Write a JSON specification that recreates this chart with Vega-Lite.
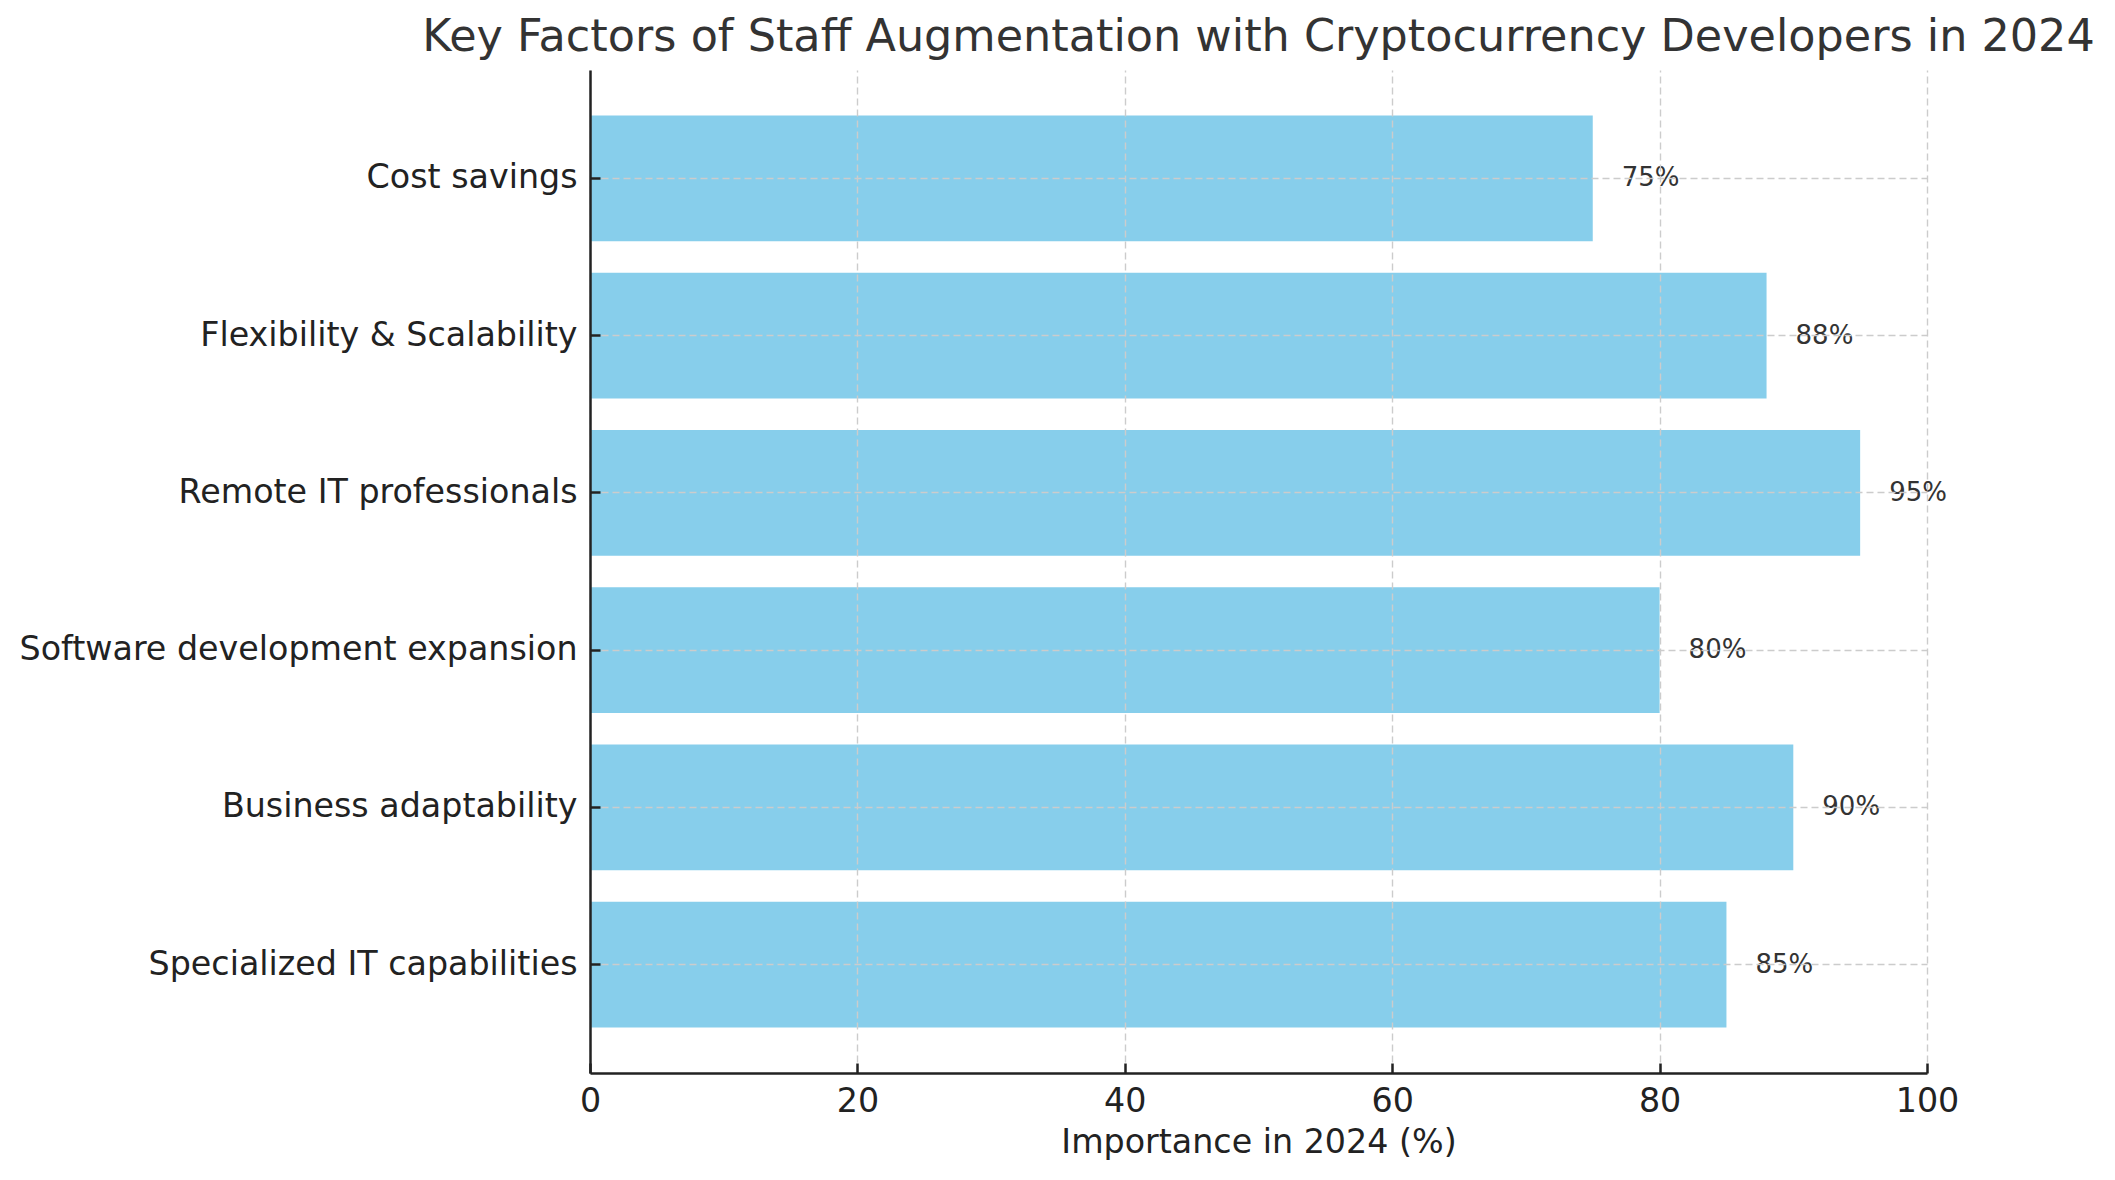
{
  "$schema": "https://vega.github.io/schema/vega-lite/v6.json",
  "autosize": {"type": "none"},
  "padding": {"left": 590, "top": 70, "right": 188, "bottom": 107},
  "width": 1337,
  "height": 1003,
  "background": "white",
  "title": {
    "text": "Key Factors of Staff Augmentation with Cryptocurrency Developers in 2024",
    "font": "DejaVu Sans",
    "fontSize": 44.5,
    "fontWeight": "normal",
    "color": "#333333",
    "anchor": "middle",
    "baseline": "alphabetic",
    "offset": 19,
    "dy": 44,
    "limit": 2100
  },
  "data": {
    "values": [
      {"factor": "Cost savings", "importance": 75, "label": "75%"},
      {"factor": "Flexibility & Scalability", "importance": 88, "label": "88%"},
      {"factor": "Remote IT professionals", "importance": 95, "label": "95%"},
      {"factor": "Software development expansion", "importance": 80, "label": "80%"},
      {"factor": "Business adaptability", "importance": 90, "label": "90%"},
      {"factor": "Specialized IT capabilities", "importance": 85, "label": "85%"}
    ]
  },
  "encoding": {
    "y": {
      "field": "factor",
      "type": "nominal",
      "sort": null,
      "scale": {"paddingInner": 0.2, "paddingOuter": 0.29},
      "axis": {
        "title": null,
        "grid": true,
        "bandPosition": 0.5,
        "gridColor": "#cccccc",
        "gridDash": [7, 4],
        "gridWidth": 1.4,
        "domainColor": "#222222",
        "domainWidth": 2.5,
        "tickColor": "#222222",
        "tickWidth": 2.5,
        "tickSize": -10,
        "labelFont": "DejaVu Sans",
        "labelFontSize": 33.3,
        "labelColor": "#222222",
        "labelPadding": 23,
        "labelLimit": 800,
        "zindex": 1
      }
    }
  },
  "layer": [
    {
      "mark": {"type": "bar", "color": "#87CEEB"},
      "encoding": {
        "x": {
          "field": "importance",
          "type": "quantitative",
          "scale": {"domain": [0, 100], "nice": false},
          "axis": {
            "title": "Importance in 2024 (%)",
            "values": [0, 20, 40, 60, 80, 100],
            "grid": true,
            "gridColor": "#cccccc",
            "gridDash": [7, 4],
            "gridWidth": 1.4,
            "domainColor": "#222222",
            "domainWidth": 2.5,
            "tickColor": "#222222",
            "tickWidth": 2.5,
            "tickSize": -10,
            "labelFont": "DejaVu Sans",
            "labelFontSize": 33.3,
            "labelColor": "#222222",
            "labelPadding": 22,
            "labelFlush": false,
            "titleFont": "DejaVu Sans",
            "titleFontSize": 33.3,
            "titleFontWeight": "normal",
            "titleColor": "#222222",
            "titlePadding": 9,
            "zindex": 1
          }
        }
      }
    },
    {
      "mark": {
        "type": "text",
        "align": "left",
        "baseline": "middle",
        "dx": 29,
        "font": "DejaVu Sans",
        "fontSize": 26,
        "color": "#333333"
      },
      "encoding": {
        "x": {"field": "importance", "type": "quantitative"},
        "text": {"field": "label", "type": "nominal"}
      }
    }
  ],
  "config": {"view": {"stroke": null}}
}
